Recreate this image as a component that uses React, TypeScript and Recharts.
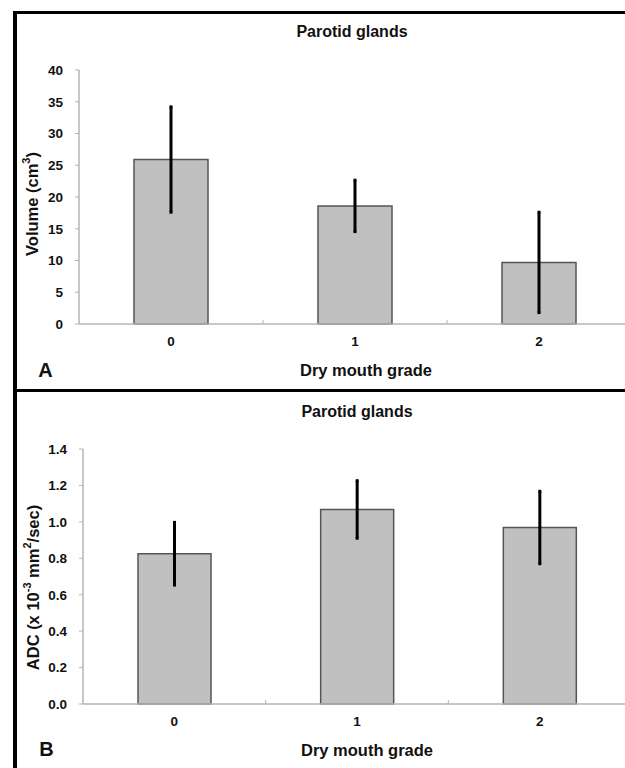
import React from 'react';
import { BarChart, Bar, XAxis, YAxis, ErrorBar } from 'recharts';

const grades = ['0', '1', '2'];
const volumeMean = [25.9, 18.6, 9.7];
const volumeErr = [8.3, 4.05, 7.9];
const adcMean = [0.825, 1.068, 0.969];
const adcErr = [0.172, 0.158, 0.199];
const volumeTicks = [0, 5, 10, 15, 20, 25, 30, 35, 40];
const adcTicks = [0, 0.2, 0.4, 0.6, 0.8, 1.0, 1.2, 1.4];

const volumeData = grades.map((g, i) => ({ grade: g, value: volumeMean[i], err: volumeErr[i] }));
const adcData = grades.map((g, i) => ({ grade: g, value: adcMean[i], err: adcErr[i] }));

const FONT = '"Liberation Sans", Arial, sans-serif';
const AXIS_GRAY = '#b4b4b4';

const XTick = (props: any) => {
  const { x, y, payload, index, width, visibleTicksCount } = props;
  const off = payload && payload.offset != null ? payload.offset : (width / (visibleTicksCount || 3)) / 2;
  return (
    <g>
      {index > 0 && <line x1={x - off} x2={x - off} y1={y - 4} y2={y} stroke={AXIS_GRAY} strokeWidth={1} />}
      <text x={x} y={y + 17} textAnchor="middle" dominantBaseline="central" fontFamily={FONT} fontWeight="bold" fontSize={13.5} fill="#111">
        {payload.value}
      </text>
    </g>
  );
};

const makeXLabel = (dx: number, dy: number) => (props: any) => {
  const vb = props.viewBox || {};
  return (
    <text x={vb.x + vb.width / 2 + dx} y={vb.y + dy} textAnchor="middle" dominantBaseline="central" fontFamily={FONT} fontWeight="bold" fontSize={16.5} fill="#111">
      Dry mouth grade
    </text>
  );
};

const VolumeYLabel = (props: any) => {
  const vb = props.viewBox || {};
  const cx = vb.x + 32;
  const cy = vb.y + vb.height / 2 + 7;
  return (
    <text x={cx} y={cy} transform={`rotate(-90 ${cx} ${cy})`} textAnchor="middle" dominantBaseline="central" fontFamily={FONT} fontWeight="bold" fontSize={16.5} fill="#111">
      Volume (cm<tspan dy={-6} fontSize={11}>3</tspan><tspan dy={6}>)</tspan>
    </text>
  );
};

const AdcYLabel = (props: any) => {
  const vb = props.viewBox || {};
  const cx = vb.x + 33;
  const cy = vb.y + vb.height / 2 + 11;
  return (
    <text x={cx} y={cy} transform={`rotate(-90 ${cx} ${cy})`} textAnchor="middle" dominantBaseline="central" fontFamily={FONT} fontWeight="bold" fontSize={16.5} fill="#111">
      ADC (x 10<tspan dy={-6} fontSize={11}>-3</tspan><tspan dy={6}> mm</tspan><tspan dy={-6} fontSize={11}>2</tspan><tspan dy={6}>/sec)</tspan>
    </text>
  );
};

const yTickStyle = { fontFamily: FONT, fontWeight: 'bold' as const, fontSize: 13.5, fill: '#111' };

const Txt = ({ cx, cy, size, children }: { cx: number; cy: number; size: number; children: React.ReactNode }) => (
  <div
    style={{
      position: 'absolute',
      left: cx - 200,
      width: 400,
      top: cy - 15,
      height: 30,
      lineHeight: '30px',
      textAlign: 'center',
      fontFamily: FONT,
      fontWeight: 'bold',
      fontSize: size,
      color: '#111',
      whiteSpace: 'nowrap',
    }}
  >
    {children}
  </div>
);

export default function App() {
  return (
    <div style={{ position: 'absolute', left: 0, top: 0, width: 625, height: 768, overflow: 'hidden', background: '#fff' }}>
      <div style={{ position: 'absolute', left: 0, top: 0, width: 640, height: 388 }}>
        <BarChart width={640} height={388} data={volumeData} margin={{ top: 70, right: 9, bottom: 34, left: 0 }} barCategoryGap={0}>
          <XAxis
            dataKey="grade"
            height={30}
            tick={<XTick />}
            tickLine={false}
            tickSize={0}
            tickMargin={0}
            interval={0}
            axisLine={{ stroke: AXIS_GRAY, strokeWidth: 1.5 }}
            label={{ content: makeXLabel(11, 46) } as any}
          />
          <YAxis
            width={79}
            domain={[0, 40]}
            ticks={volumeTicks}
            interval={0}
            tick={yTickStyle}
            tickSize={4}
            tickMargin={12}
            tickLine={{ stroke: AXIS_GRAY }}
            axisLine={{ stroke: AXIS_GRAY, strokeWidth: 1.5 }}
            label={{ content: VolumeYLabel } as any}
          />
          <Bar dataKey="value" barSize={74} fill="#c0c0c0" stroke="#555" strokeWidth={1.5} isAnimationActive={false}>
            <ErrorBar dataKey="err" width={1.5} strokeWidth={3} stroke="#000" isAnimationActive={false} />
          </Bar>
        </BarChart>
      </div>
      <div style={{ position: 'absolute', left: 0, top: 388, width: 640, height: 380 }}>
        <BarChart width={640} height={380} data={adcData} margin={{ top: 61, right: 9, bottom: 34, left: 0 }} barCategoryGap={0}>
          <XAxis
            dataKey="grade"
            height={30}
            tick={<XTick />}
            tickLine={false}
            tickSize={0}
            tickMargin={0}
            interval={0}
            axisLine={{ stroke: AXIS_GRAY, strokeWidth: 1.5 }}
            label={{ content: makeXLabel(10, 46) } as any}
          />
          <YAxis
            width={83}
            domain={[0, 1.4]}
            ticks={adcTicks}
            interval={0}
            tickFormatter={(v: number) => v.toFixed(1)}
            tick={yTickStyle}
            tickSize={4}
            tickMargin={12}
            tickLine={{ stroke: AXIS_GRAY }}
            axisLine={{ stroke: AXIS_GRAY, strokeWidth: 1.5 }}
            label={{ content: AdcYLabel } as any}
          />
          <Bar dataKey="value" barSize={73} fill="#c0c0c0" stroke="#555" strokeWidth={1.5} isAnimationActive={false}>
            <ErrorBar dataKey="err" width={1.5} strokeWidth={3} stroke="#000" isAnimationActive={false} />
          </Bar>
        </BarChart>
      </div>

      <Txt cx={352} cy={32} size={16}>Parotid glands</Txt>
      <Txt cx={45.5} cy={370} size={20}>A</Txt>
      <Txt cx={357} cy={412} size={16}>Parotid glands</Txt>
      <Txt cx={46.5} cy={749} size={20}>B</Txt>

      <div style={{ position: 'absolute', left: 13, top: 10.5, width: 3.5, height: 758, background: '#000' }} />
      <div style={{ position: 'absolute', left: 13, top: 10.5, width: 612, height: 3.5, background: '#000' }} />
      <div style={{ position: 'absolute', left: 13, top: 388.5, width: 612, height: 3.5, background: '#000' }} />
    </div>
  );
}
